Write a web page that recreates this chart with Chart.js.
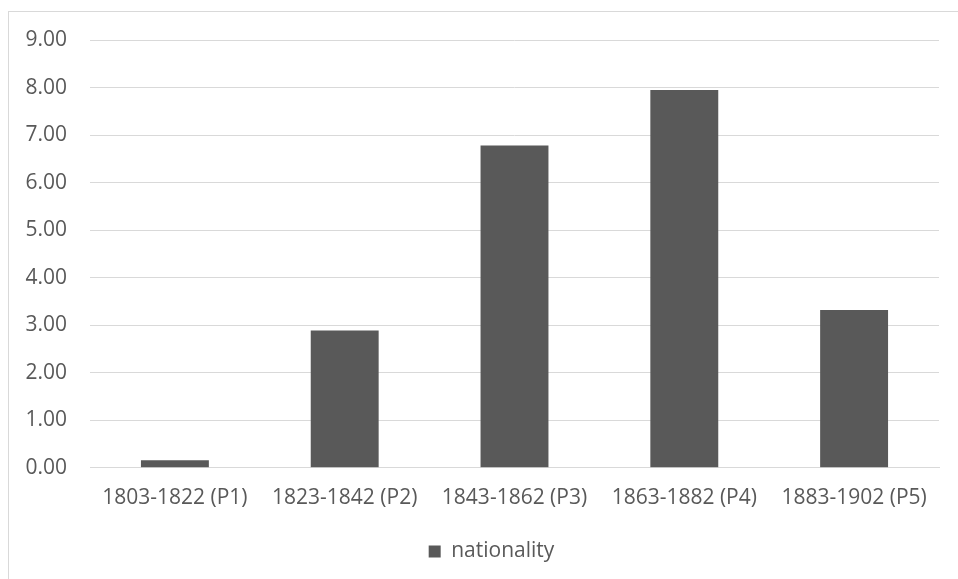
<!DOCTYPE html>
<html>
<head>
<meta charset="utf-8">
<script src="https://cdn.jsdelivr.net/npm/chart.js@4"></script>
<style>
  html, body { margin: 0; padding: 0; background: #fff; }
  #wrap { position: relative; width: 958px; height: 579px; overflow: hidden; }
  #frame {
    position: absolute; left: 8px; top: 11px; width: 1000px; height: 700px;
    border-left: 1px solid #d9d9d9; border-top: 1px solid #d9d9d9;
  }
  canvas { position: absolute; left: 0; top: 0; }
</style>
</head>
<body>
<div id="wrap">
  <div id="frame"></div>
  <canvas id="chart" width="958" height="579"></canvas>
</div>
<script>
const categories = ["1803-1822 (P1)", "1823-1842 (P2)", "1843-1862 (P3)", "1863-1882 (P4)", "1883-1902 (P5)"];
const nationality = [0.16, 2.89, 6.78, 7.95, 3.32];
const yTicks = [0, 1, 2, 3, 4, 5, 6, 7, 8, 9];

const fontFamily = "'Open Sans', 'Noto Sans', sans-serif";
const textColor = "#595959";

// the original legend sits a bit right of the canvas centre
const shiftLegend = {
  id: "shiftLegend",
  afterLayout(chart) {
    if (chart.legend) {
      chart.legend.left += 22;
      chart.legend.right += 22;
    }
  },
};

const ctx = document.getElementById("chart").getContext("2d");
new Chart(ctx, {
  type: "bar",
  data: {
    labels: categories,
    datasets: [
      {
        label: "nationality",
        data: nationality,
        backgroundColor: "#595959",
        categoryPercentage: 1,
        barPercentage: 0.4,
      },
    ],
  },
  options: {
    responsive: false,
    animation: false,
    layout: {
      padding: { top: 40, right: 19, left: 0, bottom: 7 },
    },
    plugins: {
      legend: {
        position: "bottom",
        labels: {
          boxWidth: 12,
          boxHeight: 12,
          padding: 12,
          color: textColor,
          font: { family: fontFamily, size: 21 },
        },
      },
      tooltip: { enabled: false },
    },
    scales: {
      x: {
        grid: { display: false },
        border: { display: true, color: "#d9d9d9", width: 1 },
        afterFit: (scale) => {
          scale.height += 8;
        },
        ticks: {
          color: textColor,
          padding: 10,
          maxRotation: 0,
          font: { family: fontFamily, size: 21 },
        },
      },
      y: {
        min: 0,
        max: 9,
        afterBuildTicks: (scale) => {
          scale.ticks = yTicks.map((v) => ({ value: v }));
        },
        afterFit: (scale) => {
          scale.width = 90;
        },
        grid: { color: "#d9d9d9", drawTicks: false },
        border: { display: false },
        ticks: {
          color: textColor,
          padding: 23,
          font: { family: fontFamily, size: 21 },
          callback: (v) => Number(v).toFixed(2),
        },
      },
    },
  },
  plugins: [shiftLegend],
});
</script>
</body>
</html>
